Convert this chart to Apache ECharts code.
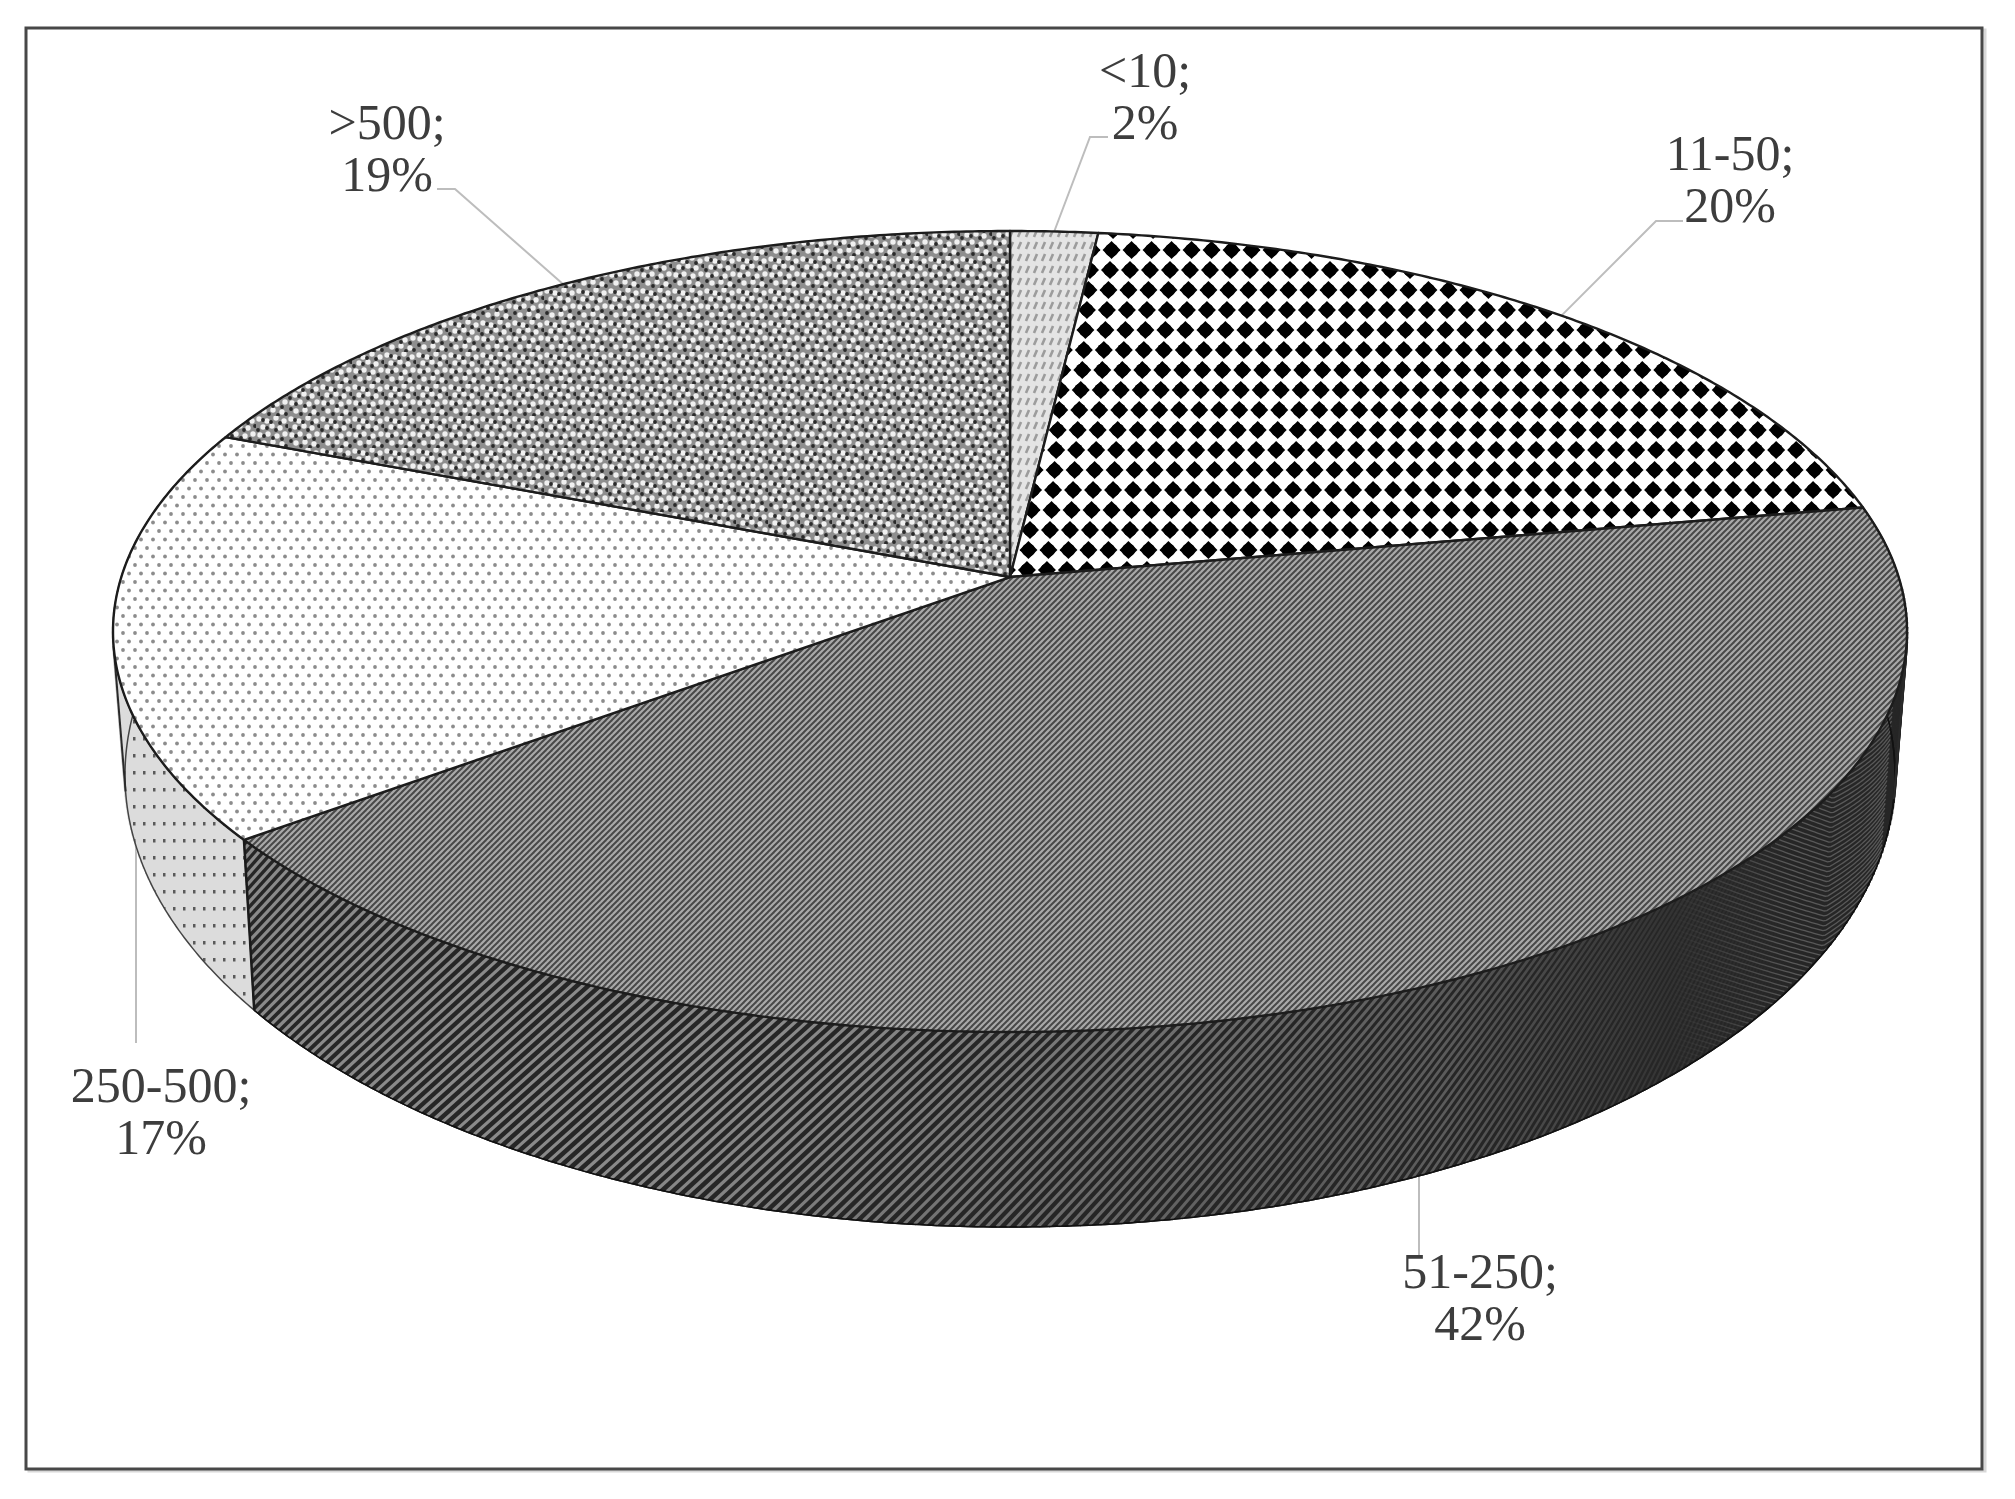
<!DOCTYPE html>
<html>
<head>
<meta charset="utf-8">
<style>
html, body { margin: 0; padding: 0; background: #fff; }
#main { width: 2015px; height: 1499px; }
</style>
<script src="https://cdn.jsdelivr.net/npm/echarts@6/dist/echarts.min.js"></script>
</head>
<body>
<div id="main"></div>
<script>
// share of each size group
var categories = ['<10', '11-50', '51-250', '250-500', '>500'];
var shares = [1.8, 20.3, 42.4, 16.6, 18.9];

// label centre and elbow of the leader line, per slice
var labelCentres = [[1145, 100], [1730, 183], [1480, 1301], [161, 1115], [387, 152]];
var leaderElbows = [[1090, 137], [1656, 221], [1419, 1257], [136, 1043], [455, 189]];
var leaderEnds = [[1108, 137], [1683, 221], null, null, [437, 189]];

// top face and bottom rim of the disc
var TOP = { cx: 1010, cy: 631.5, a: 897, b: 400.5, k: 0.136 };
var RIM = { cx: 1010, cy: 775, a: 885, b: 452, k: 0.136 };

var total = shares.reduce(function (s, v) { return s + v; }, 0);

function angleAt(i) {
    var sum = 0;
    for (var n = 0; n < i; n++) sum += shares[n];
    return sum / total * Math.PI * 2;
}

// angle is clockwise from the top, the centre of the circle lands off the ellipse centre
function project(e, th) {
    var u = Math.sin(th), v = -Math.cos(th), d = 1 - e.k * v;
    return [e.cx + e.a * Math.sqrt(1 - e.k * e.k) * u / d, e.cy + e.b * (v - e.k) / d];
}

function arc(e, from, to) {
    var pts = [], n = Math.max(2, Math.ceil(Math.abs(to - from) / 0.008));
    for (var i = 0; i <= n; i++) pts.push(project(e, from + (to - from) * i / n));
    return pts;
}

function tile(w, h, draw) {
    var c = document.createElement('canvas');
    c.width = w;
    c.height = h;
    draw(c.getContext('2d'), w, h);
    return { image: c, repeat: 'repeat' };
}

function dot(ctx, x, y, r, col) {
    ctx.fillStyle = col;
    ctx.beginPath();
    ctx.arc(x, y, r, 0, Math.PI * 2);
    ctx.fill();
}

var patterns = [
    // <10 pale slanted dashes
    tile(8, 12, function (ctx, w, h) {
        ctx.fillStyle = '#e4e4e4';
        ctx.fillRect(0, 0, w, h);
        ctx.strokeStyle = '#9c9c9c';
        ctx.lineWidth = 2.6;
        ctx.beginPath();
        ctx.moveTo(2, 9);
        ctx.lineTo(5, 2);
        ctx.stroke();
    }),
    // 11-50 black diamonds, the rows drift left a little
    tile(20, 260, function (ctx, w, h) {
        ctx.fillStyle = '#fff';
        ctx.fillRect(0, 0, w, h);
        ctx.fillStyle = '#000';
        for (var r = 0; r < 13; r++) {
            var base = (10 - r * 20 / 13 + 20) % 20, y = 10 + r * 20;
            for (var c = -1; c < 2; c++) {
                var x = base + c * 20;
                ctx.beginPath();
                ctx.moveTo(x, y - 9);
                ctx.lineTo(x + 9, y);
                ctx.lineTo(x, y + 9);
                ctx.lineTo(x - 9, y);
                ctx.closePath();
                ctx.fill();
                dot(ctx, x, y, 6.6, '#000');
            }
        }
    }),
    // 51-250 fine diagonal stripes
    tile(6, 6, function (ctx, w, h) {
        ctx.fillStyle = '#aaaaaa';
        ctx.fillRect(0, 0, w, h);
        ctx.strokeStyle = '#484848';
        ctx.lineWidth = 2;
        [-6, 0, 6].forEach(function (o) {
            ctx.beginPath();
            ctx.moveTo(o - 1, 7);
            ctx.lineTo(o + 7, -1);
            ctx.stroke();
        });
    }),
    // 250-500 sparse grey dots
    tile(12, 17, function (ctx, w, h) {
        ctx.fillStyle = '#fff';
        ctx.fillRect(0, 0, w, h);
        dot(ctx, 3, 4, 1.9, '#8c8c8c');
        dot(ctx, 9, 12.5, 1.9, '#8c8c8c');
    }),
    // >500 dense dark and light blobs, uneven so it reads as speckle
    tile(32, 32, function (ctx, w, h) {
        ctx.fillStyle = '#8e8e8e';
        ctx.fillRect(0, 0, w, h);
        [[3, 3], [11, 5], [20, 2], [28, 5], [7, 11], [16, 10], [24, 12], [4, 19], [12, 18], [21, 20], [29, 18], [8, 27], [17, 26], [26, 28]].forEach(function (p) {
            dot(ctx, p[0], p[1], 2.7, '#f0f0f0');
        });
        [[7, 4], [15, 6], [24, 7], [31, 10], [11, 12], [20, 14], [2, 14], [8, 20], [17, 22], [26, 23], [3, 25], [13, 30], [22, 31], [30, 30]].forEach(function (p) {
            dot(ctx, p[0], p[1], 1.9, '#2a2a2a');
        });
    })
];

var lightWall = tile(10, 17, function (ctx, w, h) {
    ctx.fillStyle = '#dcdcdc';
    ctx.fillRect(0, 0, w, h);
    ctx.fillStyle = '#5a5a5a';
    ctx.fillRect(3, 6, 2.5, 3.5);
});

function lerp(p, q, t) {
    return [p[0] + (q[0] - p[0]) * t, p[1] + (q[1] - p[1]) * t];
}

function onWall(th, t) {
    return lerp(project(TOP, th), project(RIM, th), t);
}

// light stripes running over the dark wall of the big slice, they die out to the right
function wallStripes(from, to) {
    var out = [], lean = 0.19, th = to, stop = Math.max(from, 1.95);
    var fade = new echarts.graphic.LinearGradient(1440, 0, 1790, 0, [
        { offset: 0, color: 'rgba(92,92,92,1)' },
        { offset: 1, color: 'rgba(70,70,70,0)' }
    ], true);
    while (th > stop) {
        var b = Math.min(th + lean, to);
        var p = onWall(th, 0);
        var q = onWall(b, (b - th) / lean);
        var c = th < Math.PI ? Math.abs(Math.cos(th)) : 1;
        // grey falls evenly from the middle of the wall to where the fade takes over
        var g = Math.round(0x8a - (0x8a - 0x5c) * Math.min(1, Math.max(0, (p[0] - 800) / 640)));
        out.push({
            type: 'line', z2: 2, silent: true,
            shape: { x1: p[0], y1: p[1], x2: q[0], y2: q[1] },
            style: {
                stroke: p[0] > 1440 ? fade : 'rgb(' + g + ',' + g + ',' + g + ')',
                lineWidth: Math.max(3.2 * c, 0.5)
            }
        });
        th -= 9 / RIM.a;
    }
    return out;
}

// ripple near the right end of the wall, chevrons with the point to the bottom
function wallRipple() {
    var out = [], vertex = 2.1;
    var fade = new echarts.graphic.LinearGradient(1670, 0, 1790, 0, [
        { offset: 0, color: 'rgba(88,88,88,0)' },
        { offset: 1, color: 'rgba(88,88,88,1)' }
    ], true);
    for (var t0 = -1; t0 < 2.2; t0 += 0.03) {
        var pts = [];
        for (var th = 1.88; th <= 2.5; th += 0.008) {
            var d = th - vertex;
            var t = t0 + (d > 0 ? -3.2 * d : -1.3 * d);
            if (t >= 0 && t <= 1) pts.push(onWall(th, t));
        }
        if (pts.length > 1) {
            out.push({
                type: 'polyline', z2: 2, silent: true,
                shape: { points: pts },
                style: { stroke: fade, lineWidth: 1.3, fill: null }
            });
        }
    }
    return out;
}

// rulings fill the thin wedge between the rim arc and the silhouette
function hull(from, to, col) {
    var out = [];
    for (var th = from; th <= to; th += 0.012) {
        var p = project(TOP, th), q = project(RIM, th);
        out.push({
            type: 'line', z2: 1, silent: true,
            shape: { x1: p[0], y1: p[1], x2: q[0], y2: q[1] },
            style: { stroke: col, lineWidth: 3 }
        });
    }
    return out;
}

function silhouette(th) {
    var p = project(TOP, th), q = project(RIM, th);
    return {
        type: 'line', z2: 3, silent: true,
        shape: { x1: p[0], y1: p[1], x2: q[0], y2: q[1] },
        style: { stroke: '#2a2a2a', lineWidth: 2 }
    };
}

function renderSlice(params, api) {
    var i = params.dataIndex;
    var from = angleAt(i), to = from + api.value(0) / total * Math.PI * 2, mid = (from + to) / 2;
    var kids = [];

    // leader line goes under the disc
    var start = i === 2 || i === 3 ? [leaderElbows[i][0], project(RIM, mid)[1]] : project(TOP, mid);
    var linePts = [start, leaderElbows[i]];
    if (leaderEnds[i]) linePts.push(leaderEnds[i]);
    kids.push({
        type: 'polyline', z2: 0, silent: true,
        shape: { points: linePts },
        style: { stroke: '#bdbdbd', lineWidth: 2, fill: null }
    });

    // side wall
    if (i === 2 || i === 3) {
        var wall = arc(TOP, from, to).concat(arc(RIM, to, from));
        if (i === 2) {
            kids = kids.concat(hull(1.6, 2.1, '#262626'));
            kids.push({
                type: 'polygon', z2: 1, silent: true,
                shape: { points: wall },
                style: { fill: '#262626', stroke: '#111', lineWidth: 1.5 }
            });
            kids = kids.concat(wallStripes(from, to), wallRipple());
            kids.push({
                type: 'polyline', z2: 3, silent: true,
                shape: { points: arc(RIM, from, to) },
                style: { stroke: '#111', lineWidth: 1.5, fill: null }
            });
            kids.push({
                type: 'line', z2: 3, silent: true,
                shape: { x1: project(TOP, to)[0], y1: project(TOP, to)[1], x2: project(RIM, to)[0], y2: project(RIM, to)[1] },
                style: { stroke: '#1a1a1a', lineWidth: 2.5 }
            });
            kids.push(silhouette(1.76));
        } else {
            kids = kids.concat(hull(4.3, 4.65, '#dcdcdc'));
            kids.push({
                type: 'polygon', z2: 1, silent: true,
                shape: { points: wall },
                style: { fill: lightWall, stroke: '#444', lineWidth: 1.5 }
            });
            kids.push(silhouette(4.54));
        }
    }

    // top face
    var apex = [TOP.cx, TOP.cy - TOP.b * TOP.k];
    kids.push({
        type: 'polygon', z2: 4, silent: true,
        shape: { points: [apex].concat(arc(TOP, from, to)) },
        style: { fill: patterns[i], stroke: '#1c1c1c', lineWidth: 2.4, lineJoin: 'round' }
    });

    // label
    kids.push({
        type: 'text', z2: 5, silent: true,
        style: {
            x: labelCentres[i][0], y: labelCentres[i][1],
            text: categories[i] + ';\n' + Math.round(api.value(0) / total * 100) + '%',
            fill: '#3d3d3d',
            font: '50px "Liberation Serif"',
            align: 'center', verticalAlign: 'middle', lineHeight: 52
        }
    });

    return { type: 'group', children: kids };
}

var myChart = echarts.init(document.getElementById('main'), null, { renderer: 'canvas' });

var option = {
    animation: false,
    backgroundColor: '#fff',
    graphic: [{
        type: 'rect', z: -1, silent: true,
        shape: { x: 29, y: 30, width: 1956, height: 1441 },
        style: { fill: null, stroke: '#d8d8d8', lineWidth: 3 }
    }, {
        type: 'rect', z: -1, silent: true,
        shape: { x: 26, y: 28, width: 1956, height: 1441 },
        style: { fill: '#fff', stroke: '#484848', lineWidth: 3 }
    }],
    series: [{
        type: 'custom',
        coordinateSystem: 'none',
        renderItem: renderSlice,
        data: shares.map(function (v, i) { return { name: categories[i], value: [v] }; })
    }]
};

myChart.setOption(option);
</script>
</body>
</html>
